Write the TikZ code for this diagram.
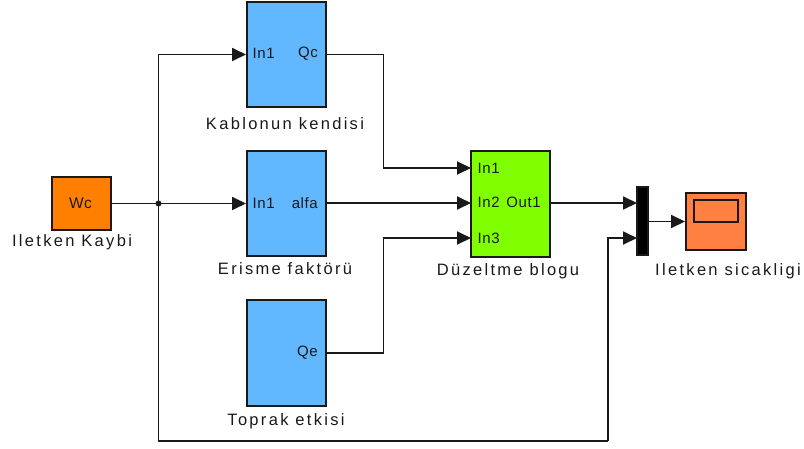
\documentclass[tikz,border=0pt]{standalone}
\usepackage{fontspec}
\setmainfont{Liberation Sans}
\newfontfamily\lblfont{Liberation Sans}[LetterSpace=14]
\newfontfamily\portfont{Liberation Sans}[LetterSpace=4]
\usetikzlibrary{arrows.meta,calc}
\definecolor{sblue}{RGB}{98,184,255}
\definecolor{sorange}{RGB}{255,128,0}
\definecolor{sgreen}{RGB}{128,255,0}
\definecolor{scoral}{RGB}{255,128,64}
\definecolor{sline}{RGB}{25,25,25}
\tikzset{
  blk/.style={draw=sline,line width=2pt,inner sep=0pt},
  conn/.style={draw=sline,line width=1.8pt},
  arr/.style={conn,-{Triangle[length=14pt,width=13pt]}},
  lbl/.style={font=\lblfont\fontsize{16.5}{19}\selectfont,inner sep=0pt,text=sline},
  port/.style={font=\portfont\fontsize{15}{17}\selectfont,inner sep=0pt,text=sline},
}
\begin{document}
\begin{tikzpicture}[x=1pt,y=-1pt]
\useasboundingbox (0,0) rectangle (804,448);
% blocks
\node[blk,fill=sorange,minimum width=59pt,minimum height=53pt] (wc) at (81.5,203.5) {};
\node[blk,fill=sblue,minimum width=79pt,minimum height=105pt] (kab) at (286.5,54.5) {};
\node[blk,fill=sblue,minimum width=79pt,minimum height=105pt] (eri) at (286.5,203.5) {};
\node[blk,fill=sblue,minimum width=79pt,minimum height=106pt] (top) at (286.5,353) {};
\node[blk,fill=sgreen,minimum width=79pt,minimum height=106pt] (duz) at (510.5,204) {};
\node[blk,fill=black,minimum width=11pt,minimum height=68pt] (mux) at (642.5,221) {};
\node[blk,fill=scoral,minimum width=60pt,minimum height=57pt] (sco) at (716,221.5) {};
\node[blk,fill=scoral,line width=1.6pt,minimum width=44pt,minimum height=22pt] (scr) at (716,211) {};
% block texts
\node[port,font=\portfont\fontsize{15.5}{17}\selectfont] (wct) at (80.5,203) {Wc};
\node[port,anchor=west] (k1) at (252.5,53.5) {In1};
\node[port,anchor=east] (k2) at (318,53.5) {Qc};
\node[port,anchor=west] (e1) at (252.5,203) {In1};
\node[port,anchor=east] (e2) at (318,203) {alfa};
\node[port,anchor=east] (t2) at (318,353) {Qe};
\node[port,anchor=west] (d1t) at (477.5,168.5) {In1};
\node[port,anchor=west] (d2t) at (477.5,202) {In2};
\node[port,anchor=east] (d2o) at (541,202) {Out1};
\node[port,anchor=west] (d3t) at (477.5,238) {In3};
% labels
\node[lbl] (lwc) at (72,242) {Iletken Kaybi};
\node[lbl] (lkab) at (285,124) {Kablonun kendisi};
\node[lbl] (leri) at (285,269) {Erisme faktörü};
\node[lbl] (ltop) at (286,421) {Toprak etkisi};
\node[lbl] (lduz) at (508,271) {Düzeltme blogu};
\node[lbl,anchor=east] (lsco) at (801,271) {Iletken sicakligi};
% coordinates
\coordinate (jn) at (158.5,203.5);
\coordinate (di1) at (471,168);
\coordinate (di2) at (471,203);
\coordinate (di3) at (471,238);
\coordinate (mi1) at (637,203);
\coordinate (mi2) at (637,238);
\coordinate (bl) at (158.5,441);
\coordinate (br) at (608,441);
% connectors
\draw[conn] (wc.east) -- (jn);
\fill[sline] (jn) circle (3pt);
\draw[arr] (jn) |- (kab.west);
\draw[arr] (jn) -- (eri.west);
\draw[conn] (jn) -- (bl) -- (br);
\draw[arr] (br) |- (mi2);
\draw[arr] (kab.east) -| (383.5,168) -- (di1);
\draw[arr] (eri.east |- di2) -- (di2);
\draw[arr] (top.east) -| (383.5,238) -- (di3);
\draw[arr] (duz.east |- mi1) -- (mi1);
\draw[arr] (mux.east |- sco.west) -- (sco.west);
\end{tikzpicture}
\end{document}
